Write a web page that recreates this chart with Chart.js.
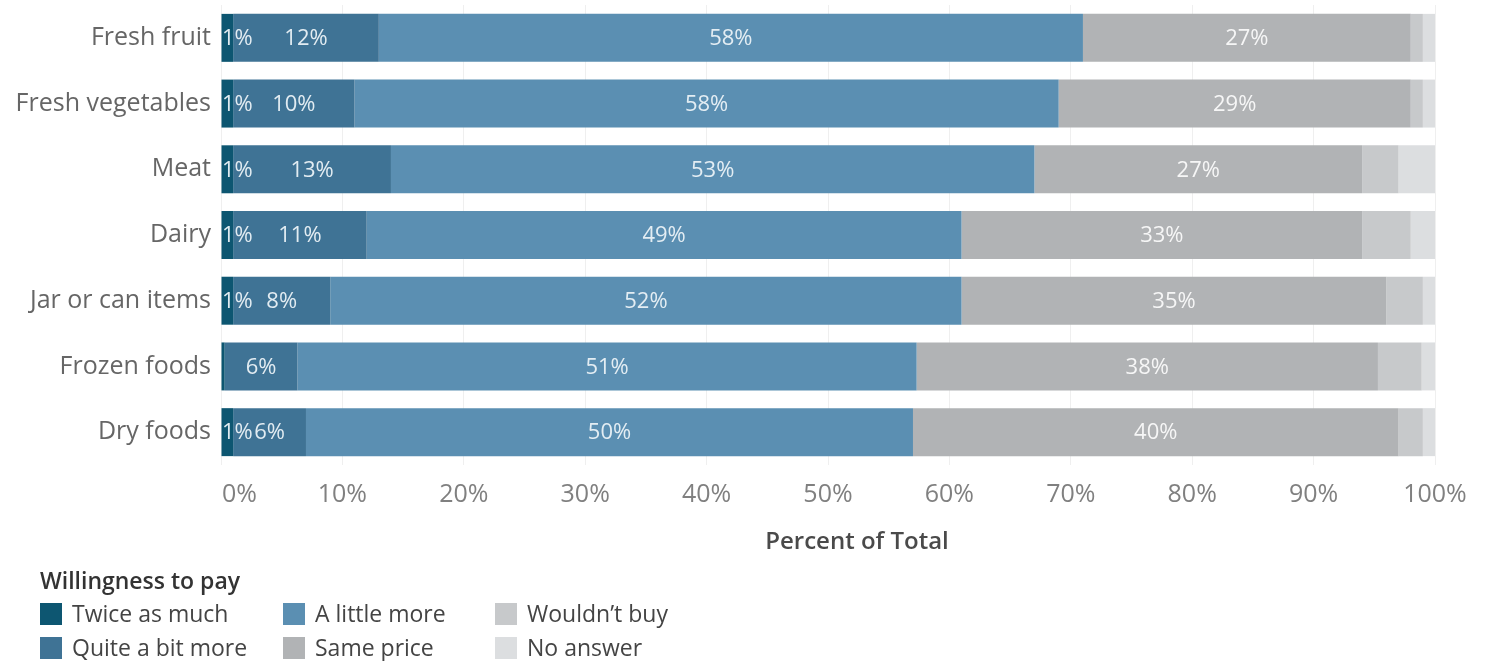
<!DOCTYPE html>
<html>
<head>
<meta charset="utf-8">
<script src="https://cdn.jsdelivr.net/npm/chart.js@4"></script>
<style>
  html, body { margin: 0; padding: 0; background: #ffffff; }
  #c { display: block; }
</style>
</head>
<body>
<canvas id="c" width="1487" height="661"></canvas>
<script>
// Food categories and the share of respondents in each willingness-to-pay group (percent)
const categories = ['Fresh fruit', 'Fresh vegetables', 'Meat', 'Dairy', 'Jar or can items', 'Frozen foods', 'Dry foods'];
const twiceAsMuch   = [1, 1, 1, 1, 1, 0.3, 1];
const quiteABitMore = [12, 10, 13, 11, 8, 6, 6];
const aLittleMore   = [58, 58, 53, 49, 52, 51, 50];
const samePrice     = [27, 29, 27, 33, 35, 38, 40];
const wouldntBuy    = [1, 1, 3, 4, 3, 3.6, 2];
const noAnswer      = [1, 1, 3, 2, 1, 1.1, 1];
const seriesNames   = ['Twice as much', 'Quite a bit more', 'A little more', 'Same price', 'Wouldn\u2019t buy', 'No answer'];
const xTickValues   = [0, 10, 20, 30, 40, 50, 60, 70, 80, 90, 100];

const seriesColors = ['#0d5671', '#3f7395', '#5b8fb2', '#b1b3b5', '#c7c9cb', '#dcdee0'];
const FONT = '"Open Sans", "Noto Sans", sans-serif';

// Segment labels for the first four groups
const segmentLabels = {
  id: 'segmentLabels',
  afterDatasetsDraw(chart) {
    const ctx = chart.ctx;
    const left = chart.chartArea.left;
    ctx.save();
    ctx.font = '22px ' + FONT;
    ctx.textBaseline = 'middle';
    ctx.textAlign = 'center';
    for (let d = 0; d < 4; d++) {
      const ds = chart.data.datasets[d];
      const meta = chart.getDatasetMeta(d);
      meta.data.forEach((bar, j) => {
        const v = ds.data[j];
        if (v < 0.5) return;
        const txt = Math.round(v) + '%';
        const w = ctx.measureText(txt).width;
        let x = (bar.x + bar.base) / 2;
        x = Math.max(x, left + w / 2 + 1);
        ctx.fillStyle = d < 3 ? 'rgba(235,242,247,0.95)' : 'rgba(250,250,250,0.95)';
        ctx.fillText(txt, x, bar.y + 1);
      });
    }
    ctx.restore();
  }
};

// X tick labels (first label kept inside the plot), axis title and legend
const axisAndLegend = {
  id: 'axisAndLegend',
  afterDraw(chart) {
    const ctx = chart.ctx;
    const xs = chart.scales.x;
    const area = chart.chartArea;
    ctx.save();
    ctx.font = '25px ' + FONT;
    ctx.fillStyle = '#808080';
    ctx.textBaseline = 'middle';
    xTickValues.forEach((v) => {
      const txt = v + '%';
      const w = ctx.measureText(txt).width;
      let x = xs.getPixelForValue(v);
      x = Math.max(x, area.left + w / 2 + 1);
      ctx.textAlign = 'center';
      ctx.fillText(txt, x, area.bottom + 30);
    });

    ctx.font = '600 24px ' + FONT;
    ctx.fillStyle = '#4a4a4a';
    ctx.textAlign = 'center';
    ctx.fillText('Percent of Total', 857, area.bottom + 77);

    // Legend
    ctx.textAlign = 'left';
    ctx.font = '600 23px ' + FONT;
    ctx.fillStyle = '#333333';
    ctx.fillText('Willingness to pay', 40, 582);
    const colX = [40, 283, 495];
    const rowY = [614, 648];
    ctx.font = '23px ' + FONT;
    chart.data.datasets.forEach((ds, i) => {
      const cx = colX[Math.floor(i / 2)];
      const cy = rowY[i % 2];
      ctx.fillStyle = ds.backgroundColor;
      ctx.fillRect(cx, cy - 11, 22, 22);
      ctx.fillStyle = '#444444';
      ctx.fillText(ds.label, cx + 32, cy + 1);
    });
    ctx.restore();
  }
};

const seriesData = [twiceAsMuch, quiteABitMore, aLittleMore, samePrice, wouldntBuy, noAnswer];

new Chart(document.getElementById('c'), {
  type: 'bar',
  data: {
    labels: categories,
    datasets: seriesData.map((arr, i) => ({
      label: seriesNames[i],
      data: arr,
      backgroundColor: seriesColors[i],
      borderWidth: 0,
      barPercentage: 0.73,
      categoryPercentage: 1.0
    }))
  },
  options: {
    indexAxis: 'y',
    responsive: false,
    animation: false,
    layout: { padding: { top: 5, right: 52, bottom: 0, left: 0 } },
    plugins: {
      legend: { display: false },
      tooltip: { enabled: false }
    },
    scales: {
      x: {
        stacked: true,
        min: 0,
        max: 100,
        ticks: { display: false, stepSize: 10 },
        grid: { color: '#efefef', drawTicks: false },
        border: { display: false },
        afterFit(scale) { scale.height = 196; }
      },
      y: {
        stacked: true,
        grid: { display: false, drawTicks: false, tickLength: 0 },
        border: { display: false },
        ticks: {
          color: '#666666',
          font: { family: FONT, size: 25 },
          padding: 10
        },
        afterFit(scale) {
          scale.width = 221;
          scale.paddingTop = 0;
          scale.paddingBottom = 0;
        }
      }
    }
  },
  plugins: [segmentLabels, axisAndLegend]
});
</script>
</body>
</html>
